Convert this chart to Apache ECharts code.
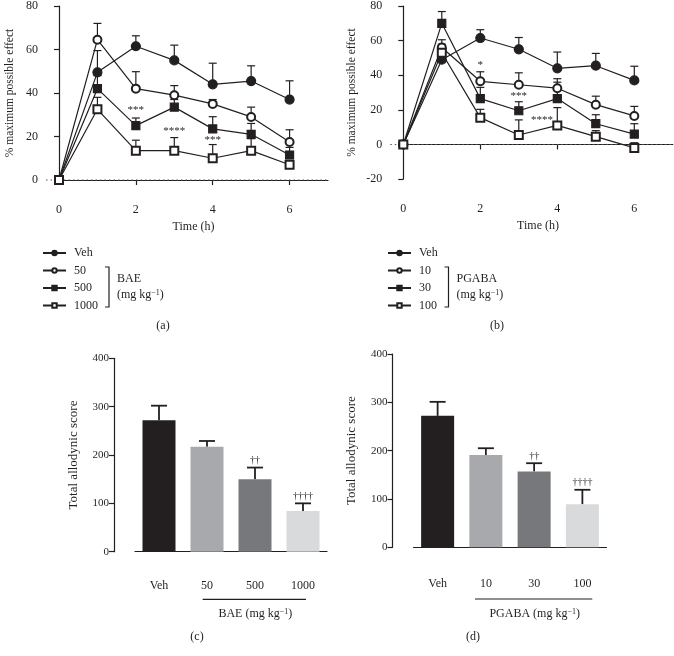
<!DOCTYPE html>
<html><head><meta charset="utf-8">
<script src="https://cdn.jsdelivr.net/npm/echarts@6/dist/echarts.min.js"></script>
<style>html,body{margin:0;padding:0;background:#fff}#c{width:674px;height:656px}</style>
</head><body><div id="c"></div>
<script>
// ---------- data ----------
const hours = [0, 1, 2, 3, 4, 5, 6];
const xTicks = [0, 2, 4, 6];
// panel (a) BAE
const aNames = ['Veh', '50', '500', '1000'];
const aVeh  = [0, 49.5, 61.5, 55, 44, 45.5, 37];
const a50   = [0, 64.5, 42, 39, 35, 29, 17.5];
const a500  = [0, 42, 25, 33.5, 23.5, 21, 11.5];
const a1000 = [0, 32.5, 13.5, 13.5, 10, 13.5, 7];
const aVehErr  = [null, 59.5, 66.3, 62, 53.7, 52.5, 45.6];
const a50Err   = [null, 72, 49.8, 43.4, 37, 33.5, 23.1];
const a500Err  = [null, 48, 28.5, 37, 29.1, 26, 15];
const a1000Err = [null, 38, 18.3, 19.5, 16.3, 19, 9];
const aStars = [[2, 32, '***'], [3, 22.4, '****'], [4, 18.3, '***']];
// panel (b) PGABA
const bNames = ['Veh', '10', '30', '100'];
const bVeh  = [0, 49, 61.5, 55, 44, 45.5, 37];
const b10   = [0, 56, 36.5, 34.5, 32.5, 23, 16.5];
const b30   = [0, 70, 26.5, 19.5, 26.5, 12, 6];
const b100  = [0, 53, 15.5, 5.5, 11, 4.5, -2];
const bVehErr = [null, 55, 66.3, 61.8, 53.4, 52.6, 45.2];
const b10Err  = [null, 60.5, 42, 41.4, 38, 27.9, 22];
const b30Err  = [null, 76.8, 33, 24.7, 36, 17.2, 12];
const b100Err = [null, 58, 20.3, 14.2, 21.3, 8, 1];
const bStars = [[2, 45.6, '*'], [3, 27.8, '***'], [3.6, 14, '****']];
// panel (c)
const cCats = ['Veh', '50', '500', '1000'];
const cVals = [272, 217, 150, 84];
const cErr  = [302, 229, 174, 100];
const cMarks = ['', '', '††', '††††'];
// panel (d)
const dCats = ['Veh', '10', '30', '100'];
const dVals = [272, 191, 157, 89];
const dErr  = [301, 205, 174, 119];
const dMarks = ['', '', '††', '††††'];

// ---------- styles ----------
const INK = '#231f20';
const FONT = 'Liberation Serif';
const barColors = ['#231f20', '#a7a9ac', '#77787b', '#d9dadb'];
const symbols = ['circle', 'emptyCircle', 'rect', 'emptyRect'];
const symSizes = [9, 8, 8, 8];
const txt = { color: INK, fontFamily: FONT, fontSize: 12 };
const txtS = (s) => ({ color: INK, fontFamily: FONT, fontSize: s });

function lineSeries(name, vals, gi, k) {
  return {
    type: 'line', name: name, xAxisIndex: gi, yAxisIndex: gi,
    data: hours.map((h, i) => [h, vals[i]]),
    symbol: symbols[k], symbolSize: symSizes[k], showSymbol: true,
    lineStyle: { color: INK, width: 1.2 },
    itemStyle: { color: INK, borderColor: INK, borderWidth: 1.2 },
    z: 3, animation: false, silent: true
  };
}
function errSeries(gi, xs, vals, errs, capW, lw) {
  const data = [];
  xs.forEach((x, i) => { if (errs[i] != null) data.push([x, vals[i], errs[i]]); });
  return {
    type: 'custom', xAxisIndex: gi, yAxisIndex: gi, data: data, z: 2,
    silent: true, animation: false,
    renderItem: function (params, api) {
      const p0 = api.coord([api.value(0), api.value(1)]);
      const p1 = api.coord([api.value(0), api.value(2)]);
      return { type: 'group', children: [
        { type: 'line', shape: { x1: p0[0], y1: p0[1], x2: p1[0], y2: p1[1] }, style: { stroke: INK, lineWidth: lw } },
        { type: 'line', shape: { x1: p1[0] - capW / 2, y1: p1[1], x2: p1[0] + capW / 2, y2: p1[1] }, style: { stroke: INK, lineWidth: lw } }
      ]};
    }
  };
}
function textSeries(gi, items, size, va) {
  return {
    type: 'custom', xAxisIndex: gi, yAxisIndex: gi, data: items.map(d => [d[0], d[1]]),
    z: 4, silent: true, animation: false,
    renderItem: function (params, api) {
      const p = api.coord([api.value(0), api.value(1)]);
      return { type: 'text', x: p[0], y: va === 'bottom' ? p[1] - 2 : p[1],
        style: { text: items[params.dataIndex][2], align: 'center', verticalAlign: va,
                 font: size + 'px "' + FONT + '"', fill: INK } };
    }
  };
}
function valueX(gi, offset) {
  return {
    gridIndex: gi, type: 'value', min: 0, max: 7, offset: offset,
    axisLine: { lineStyle: { color: INK, width: 1.2 } },
    axisTick: { customValues: xTicks, length: 5, lineStyle: { color: INK, width: 1.2 } },
    axisLabel: Object.assign({ customValues: xTicks, margin: 5 }, txt),
    splitLine: { show: false },
    name: 'Time (h)', nameLocation: 'middle', nameGap: 22, nameTextStyle: txt
  };
}
function valueY(gi, min, max, interval, offset, name, gap, labSize, nameSize) {
  return {
    gridIndex: gi, type: 'value', min: min, max: max, interval: interval, offset: offset,
    axisLine: { show: true, lineStyle: { color: INK, width: 1.2 } },
    axisTick: { show: true, length: 5, lineStyle: { color: INK, width: 1.2 } },
    axisLabel: Object.assign({ margin: 5 }, txtS(labSize)),
    splitLine: { show: false },
    name: name, nameLocation: 'middle', nameGap: gap, nameTextStyle: txtS(nameSize)
  };
}
function catX(gi, cats, offset) {
  return {
    gridIndex: gi, type: 'category', data: cats, offset: offset,
    axisLine: { lineStyle: { color: INK, width: 1.2 } },
    axisTick: { alignWithLabel: true, length: 5, lineStyle: { color: INK, width: 1.2 } },
    axisLabel: Object.assign({ margin: 10 }, txt)
  };
}
function barSeries(gi, vals) {
  return {
    type: 'bar', xAxisIndex: gi, yAxisIndex: gi, barWidth: 33, silent: true, animation: false,
    data: vals.map((v, i) => ({ value: v, itemStyle: { color: barColors[i] } })), z: 2
  };
}

const legendBase = {
  orient: 'vertical', itemWidth: 23, itemHeight: 5.5, itemGap: 5.5, selectedMode: false, padding: 0,
  textStyle: Object.assign({ padding: [0, 0, 0, 3] }, txt)
};
const mgText = (t) => ({
  text: t + '(mg kg{sup|−1})',
  rich: { sup: { fontSize: 8, fontFamily: FONT, fill: INK, verticalAlign: 'top', lineHeight: 10 } }
});

const chart = echarts.init(document.getElementById('c'), null, { renderer: 'canvas' });
const option = {
  animation: false,
  backgroundColor: '#fff',
  textStyle: { fontFamily: FONT, color: INK },
  grid: [
    { left: 59, top: 5, width: 269, height: 175 },
    { left: 403.3, top: 5, width: 269.5, height: 174.1 },
    { left: 135, top: 358.3, width: 192, height: 193.4 },
    { left: 413.5, top: 354, width: 193, height: 193.3 }
  ],
  xAxis: [valueX(0, 19), valueX(1, 19.2), catX(2, cCats, 18), catX(3, dCats, 21)],
  yAxis: [
    valueY(0, 0, 80, 20, 16, '% maximum possible effect', 27, 12, 11.5),
    valueY(1, -20, 80, 20, 16, '% maximum possible effect', 29, 12, 11.5),
    valueY(2, 0, 400, 100, 21, 'Total allodynic score', 34, 11, 13),
    valueY(3, 0, 400, 100, 21, 'Total allodynic score', 34, 11, 13)
  ],
  legend: [
    Object.assign({ data: aNames, left: 42, top: 247 }, legendBase),
    Object.assign({ data: bNames, left: 387, top: 247 }, legendBase)
  ],
  series: [
    errSeries(0, hours, aVeh, aVehErr, 8, 1.2),
    errSeries(0, hours, a50, a50Err, 8, 1.2),
    errSeries(0, hours, a500, a500Err, 8, 1.2),
    errSeries(0, hours, a1000, a1000Err, 8, 1.2),
    lineSeries('Veh', aVeh, 0, 0),
    lineSeries('50', a50, 0, 1),
    lineSeries('500', a500, 0, 2),
    lineSeries('1000', a1000, 0, 3),
    textSeries(0, aStars, 11, 'middle'),
    errSeries(1, hours, bVeh, bVehErr, 8, 1.2),
    errSeries(1, hours, b10, b10Err, 8, 1.2),
    errSeries(1, hours, b30, b30Err, 8, 1.2),
    errSeries(1, hours, b100, b100Err, 8, 1.2),
    lineSeries('Veh', bVeh, 1, 0),
    lineSeries('10', b10, 1, 1),
    lineSeries('30', b30, 1, 2),
    lineSeries('100', b100, 1, 3),
    textSeries(1, bStars, 11, 'middle'),
    barSeries(2, cVals),
    errSeries(2, [0, 1, 2, 3], cVals, cErr, 16, 1.8),
    textSeries(2, cErr.map((e, i) => [i, e, cMarks[i]]), 10, 'bottom'),
    barSeries(3, dVals),
    errSeries(3, [0, 1, 2, 3], dVals, dErr, 16, 1.8),
    textSeries(3, dErr.map((e, i) => [i, e, dMarks[i]]), 10, 'bottom')
  ]
};
chart.setOption(option);

// ---------- annotations ----------
const z0a = chart.convertToPixel({ gridIndex: 0 }, [0, 0]);
const z7a = chart.convertToPixel({ gridIndex: 0 }, [7, 0]);
const z0b = chart.convertToPixel({ gridIndex: 1 }, [0, 0]);
const z7b = chart.convertToPixel({ gridIndex: 1 }, [7, 0]);
const dotted = { stroke: '#555', lineWidth: 1.2, lineDash: [1.5, 3] };
function label(t, x, y) {
  return { type: 'text', x: x, y: y, style: { text: t, font: '12px "' + FONT + '"', fill: INK, align: 'center', verticalAlign: 'middle' } };
}
function bracketGroup(x, y1, y2, word) {
  const t2 = mgText('');
  return [
    { type: 'polyline', shape: { points: [[x - 4, y1], [x, y1], [x, y2], [x - 4, y2]] }, style: { stroke: INK, lineWidth: 1.2, fill: null } },
    { type: 'text', x: x + 8, y: y1 + 11.5, style: { text: word, font: '12px "' + FONT + '"', fill: INK, align: 'left', verticalAlign: 'middle' } },
    { type: 'text', x: x + 8, y: y1 + 27.5, style: { text: t2.text, rich: t2.rich, font: '12px "' + FONT + '"', fill: INK, align: 'left', verticalAlign: 'middle' } }
  ];
}
function underGroup(x1, x2, y, word) {
  const t = mgText(word + ' ');
  return [
    { type: 'line', shape: { x1: x1, y1: y, x2: x2, y2: y }, style: { stroke: INK, lineWidth: 1.2 } },
    { type: 'text', x: (x1 + x2) / 2 + 1, y: y + 15, style: { text: t.text, rich: t.rich, font: '12px "' + FONT + '"', fill: INK, align: 'center', verticalAlign: 'middle' } }
  ];
}
chart.setOption({
  graphic: [].concat(
    [
      { type: 'line', shape: { x1: z0a[0] - 13, y1: z0a[1], x2: z7a[0], y2: z7a[1] }, style: dotted, z: 1 },
      { type: 'line', shape: { x1: z0b[0] - 13, y1: z0b[1], x2: z7b[0], y2: z7b[1] }, style: dotted, z: 1 },
      label('(a)', 163, 326), label('(b)', 497, 326), label('(c)', 197, 637), label('(d)', 473, 637)
    ],
    bracketGroup(109, 267, 307, 'BAE'),
    bracketGroup(448.5, 267, 307, 'PGABA'),
    underGroup(202.7, 306, 599.3, 'BAE'),
    underGroup(475, 592.3, 599, 'PGABA')
  )
});
</script></body></html>
